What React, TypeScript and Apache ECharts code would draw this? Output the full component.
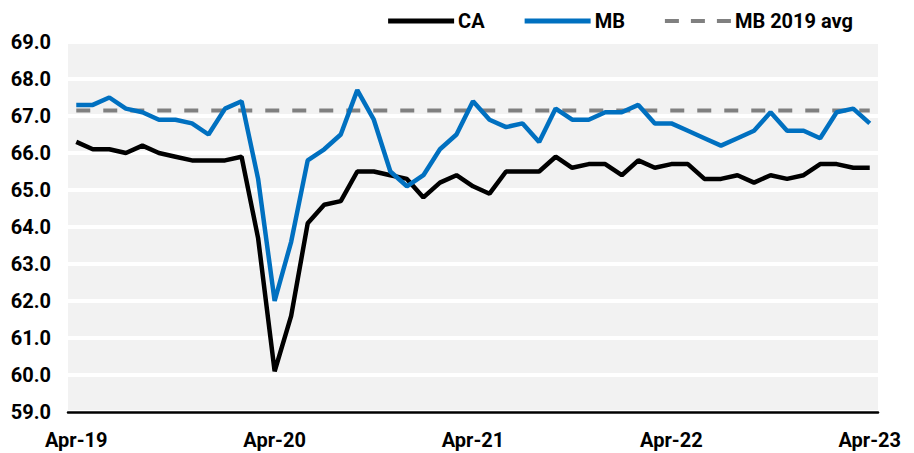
import React, { useEffect, useRef } from "react";
import * as echarts from "echarts";

const months = ["Apr","May","Jun","Jul","Aug","Sep","Oct","Nov","Dec","Jan","Feb","Mar"];
const categories: string[] = [];
for (let y = 19; y <= 23; y++) {
  for (let m = 0; m < 12; m++) {
    const yr = m >= 9 ? y + 1 : y;
    if (y === 23 && m > 0) break;
    categories.push(`${months[m]}-${yr}`);
  }
}

const caValues = [
  66.3, 66.1, 66.1, 66.0, 66.2, 66.0, 65.9, 65.8, 65.8, 65.8, 65.9, 63.7,
  60.1, 61.6, 64.1, 64.6, 64.7, 65.5, 65.5, 65.4, 65.3, 64.8, 65.2, 65.4,
  65.1, 64.9, 65.5, 65.5, 65.5, 65.9, 65.6, 65.7, 65.7, 65.4, 65.8, 65.6,
  65.7, 65.7, 65.3, 65.3, 65.4, 65.2, 65.4, 65.3, 65.4, 65.7, 65.7, 65.6,
  65.6,
];

const mbValues = [
  67.3, 67.3, 67.5, 67.2, 67.1, 66.9, 66.9, 66.8, 66.5, 67.2, 67.4, 65.3,
  62.0, 63.6, 65.8, 66.1, 66.5, 67.7, 66.9, 65.5, 65.1, 65.4, 66.1, 66.5,
  67.4, 66.9, 66.7, 66.8, 66.3, 67.2, 66.9, 66.9, 67.1, 67.1, 67.3, 66.8,
  66.8, 66.6, 66.4, 66.2, 66.4, 66.6, 67.1, 66.6, 66.6, 66.4, 67.1, 67.2,
  66.8,
];

const mb2019Avg = 67.15;
const mbAvgValues = categories.map(() => mb2019Avg);

const FONT = "Roboto, 'Noto Sans', sans-serif";

export default function App() {
  const ref = useRef<HTMLDivElement>(null);
  useEffect(() => {
    if (!ref.current) return;
    const chart = echarts.init(ref.current, undefined, { renderer: "svg" });
    chart.setOption({
      animation: false,
      textStyle: { fontFamily: FONT },
      legend: {
        top: 6,
        right: 56,
        itemWidth: 66,
        itemHeight: 10,
        itemGap: 40,
        textStyle: { fontFamily: FONT, fontSize: 20, color: "#000", fontWeight: "bold", padding: [0, 0, 0, -1] },
        data: [
          { name: "CA", icon: "path://M0,0 L66,0 L66,5 L0,5 Z" },
          { name: "MB", icon: "path://M0,0 L66,0 L66,5 L0,5 Z" },
          {
            name: "MB 2019 avg",
            icon: "path://M0,0 L14,0 L14,4 L0,4 Z M26,0 L40,0 L40,4 L26,4 Z M52,0 L66,0 L66,4 L52,4 Z",
          },
        ],
      },
      grid: {
        left: 68,
        right: 36,
        top: 42,
        bottom: 41,
        show: true,
        backgroundColor: "#f2f2f2",
        borderWidth: 0,
      },
      xAxis: {
        type: "category",
        data: categories,
        boundaryGap: true,
        axisLine: { show: true, lineStyle: { color: "#000", width: 2.5 } },
        axisTick: { show: false },
        axisLabel: {
          interval: 11,
          margin: 18,
          fontSize: 20,
          fontWeight: "bold",
          color: "#000",
          fontFamily: FONT,
        },
        splitLine: { show: false },
      },
      yAxis: {
        type: "value",
        min: 59,
        max: 69,
        interval: 1,
        axisLine: { show: false },
        axisTick: { show: false },
        axisLabel: {
          formatter: (v: number) => v.toFixed(1),
          fontSize: 20,
          fontWeight: "bold",
          color: "#000",
          fontFamily: FONT,
          margin: 17,
        },
        splitLine: { show: true, lineStyle: { color: "#ffffff", width: 4 } },
      },
      series: [
        {
          name: "CA",
          type: "line",
          data: caValues,
          showSymbol: false,
          symbol: "none",
          lineStyle: { color: "#000000", width: 4.5 },
          itemStyle: { color: "#000000" },
          z: 3,
        },
        {
          name: "MB",
          type: "line",
          data: mbValues,
          showSymbol: false,
          symbol: "none",
          lineStyle: { color: "#0070c0", width: 4.5 },
          itemStyle: { color: "#0070c0" },
          z: 4,
        },
        {
          name: "MB 2019 avg",
          type: "line",
          data: mbAvgValues,
          showSymbol: false,
          symbol: "none",
          lineStyle: { color: "#808080", width: 4, type: [14, 13] },
          itemStyle: { color: "#808080" },
          z: 2,
        },
      ],
    });
    return () => chart.dispose();
  }, []);
  return (
    <div
      ref={ref}
      style={{ position: "absolute", left: 0, top: 0, width: 914, height: 453 }}
    />
  );
}
